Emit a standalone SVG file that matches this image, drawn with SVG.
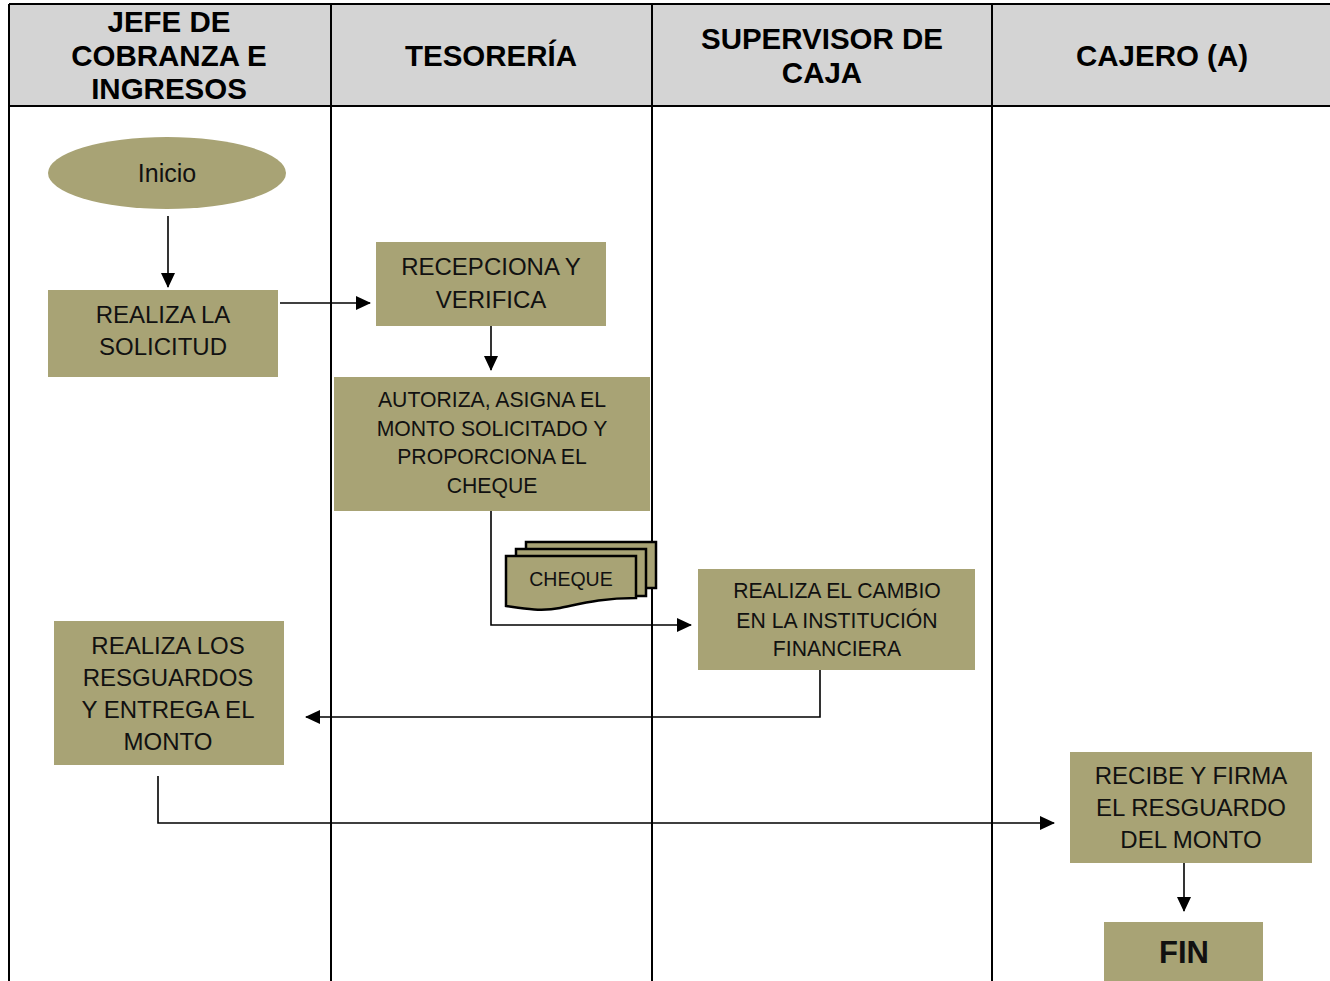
<svg xmlns="http://www.w3.org/2000/svg" width="1330" height="981" viewBox="0 0 1330 981">
<defs>
<marker id="ah2" markerWidth="16" markerHeight="16" refX="14" refY="8" orient="auto" markerUnits="userSpaceOnUse" viewBox="0 0 16 16">
<path d="M0,1 L15,8 L0,15 Z" fill="#000"/>
</marker>
</defs>
<style>
.hdr{fill:#d4d4d4}
.grid{stroke:#000;stroke-width:2;fill:none}
.ht{font-family:"Liberation Sans",Arial,sans-serif;font-weight:bold;font-size:29.5px;text-anchor:middle;fill:#000}
.node{fill:#a8a375}
.nt{font-family:"Liberation Sans",Arial,sans-serif;font-size:24px;text-anchor:middle;fill:#111}
.st{font-size:21.2px}
.conn{stroke:#000;stroke-width:1.6;fill:none}
.doc{fill:#a8a375;stroke:#000;stroke-width:2.5}
</style>
<rect width="1330" height="981" fill="#fff"/>
<g id="lanes">
<rect class="hdr" x="9" y="4" width="1321" height="102"/>
<path class="grid" d="M9,4 H1330 M9,106 H1330 M9,4 V981 M331,4 V981 M652,4 V981 M992,4 V981"/>
<text class="ht" x="169" y="32">JEFE DE</text>
<text class="ht" x="169" y="66">COBRANZA E</text>
<text class="ht" x="169" y="99">INGRESOS</text>
<text class="ht" x="491" y="66">TESORERÍA</text>
<text class="ht" x="822" y="49">SUPERVISOR DE</text>
<text class="ht" x="822" y="83">CAJA</text>
<text class="ht" x="1162" y="66">CAJERO (A)</text>
</g>
<g id="connectors">
<line class="conn" x1="168" y1="216" x2="168" y2="287" marker-end="url(#ah2)"/>
<line class="conn" x1="280" y1="303" x2="370" y2="303" marker-end="url(#ah2)"/>
<line class="conn" x1="491" y1="323" x2="491" y2="370" marker-end="url(#ah2)"/>
<polyline class="conn" points="491,511 491,625 691,625" marker-end="url(#ah2)"/>
<polyline class="conn" points="820,670 820,717 306,717" marker-end="url(#ah2)"/>
<polyline class="conn" points="158,776 158,823 1054,823" marker-end="url(#ah2)"/>
<line class="conn" x1="1184" y1="863" x2="1184" y2="911" marker-end="url(#ah2)"/>
</g>
<g id="n-inicio">
<ellipse class="node" cx="167" cy="173" rx="119" ry="36"/>
<text class="nt" x="167" y="182" style="font-size:25px">Inicio</text>
</g>
<g id="n-solicitud">
<rect class="node" x="48" y="290" width="230" height="87"/>
<text class="nt" x="163" y="323">REALIZA LA</text>
<text class="nt" x="163" y="355">SOLICITUD</text>
</g>
<g id="n-recepciona">
<rect class="node" x="376" y="242" width="230" height="84"/>
<text class="nt" x="491" y="275">RECEPCIONA Y</text>
<text class="nt" x="491" y="308">VERIFICA</text>
</g>
<g id="n-autoriza">
<rect class="node" x="334" y="377" width="316" height="134"/>
<text class="nt st" x="492" y="407">AUTORIZA, ASIGNA EL</text>
<text class="nt st" x="492" y="436">MONTO SOLICITADO Y</text>
<text class="nt st" x="492" y="464">PROPORCIONA EL</text>
<text class="nt st" x="492" y="493">CHEQUE</text>
</g>
<g id="n-cheque">
<path class="doc" d="M526,542 H656 V588 H526 Z"/>
<path class="doc" d="M516,549 H646 V596 H516 Z"/>
<path class="doc" d="M506,556 H636 V598 C600,598 580,604 560,608 C540,612 520,608 506,606 Z"/>
<text class="nt" x="571" y="586" style="font-size:19.5px">CHEQUE</text>
</g>
<g id="n-cambio">
<rect class="node" x="698" y="569" width="277" height="101"/>
<text class="nt st" x="837" y="598">REALIZA EL CAMBIO</text>
<text class="nt st" x="837" y="628">EN LA INSTITUCIÓN</text>
<text class="nt st" x="837" y="656">FINANCIERA</text>
</g>
<g id="n-resguardos">
<rect class="node" x="54" y="621" width="230" height="144"/>
<text class="nt" x="168" y="654">REALIZA LOS</text>
<text class="nt" x="168" y="686">RESGUARDOS</text>
<text class="nt" x="168" y="718">Y ENTREGA EL</text>
<text class="nt" x="168" y="750">MONTO</text>
</g>
<g id="n-recibe">
<rect class="node" x="1070" y="752" width="242" height="111"/>
<text class="nt" x="1191" y="784">RECIBE Y FIRMA</text>
<text class="nt" x="1191" y="816">EL RESGUARDO</text>
<text class="nt" x="1191" y="848">DEL MONTO</text>
</g>
<g id="n-fin">
<rect class="node" x="1104" y="922" width="159" height="70"/>
<text class="nt" x="1184" y="963" style="font-weight:bold;font-size:31px">FIN</text>
</g>
</svg>
